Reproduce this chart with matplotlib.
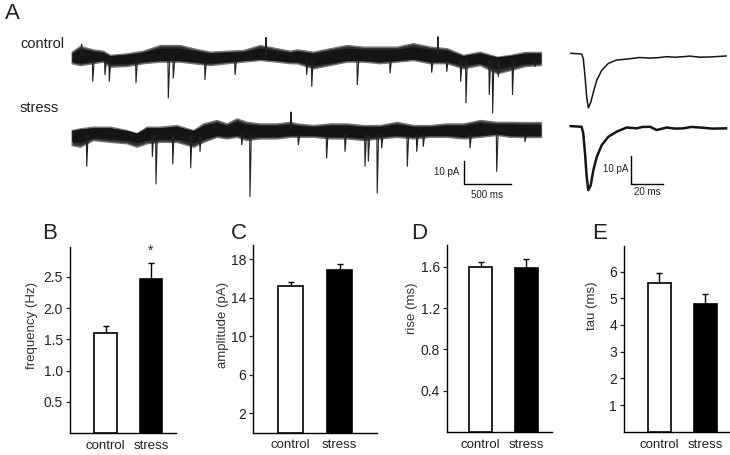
import matplotlib
matplotlib.use("Agg")
import matplotlib.pyplot as plt

plt.rcParams["font.family"] = ["Liberation Sans", "DejaVu Sans"]

W, H = 730, 455

# ---- bar data ----
groups = ["control", "stress"]
freq_mean = [1.60, 2.46]
freq_err = [0.12, 0.27]
amp_mean = [15.2, 16.85]
amp_err = [0.45, 0.65]
rise_mean = [1.60, 1.59]
rise_err = [0.05, 0.08]
tau_mean = [5.59, 4.80]
tau_err = [0.35, 0.35]

# ---- long example traces: noise band (ms, upper pA, lower pA) ----
ctrl_t = [18, 106, 245, 351, 426, 606, 777, 958, 1170, 1309, 1490, 1670, 1841,
          2022, 2202, 2341, 2415, 2586, 2766, 2947, 3118, 3298, 3479, 3650,
          3830, 4011, 4182, 4362, 4543, 4682, 4841, 5011]
ctrl_hi = [2.3, 4.8, 3.3, 2.7, 0.9, 1.6, 2.7, 5.2, 5.2, 3.8, 2.3, 2.7, 3.0,
           5.2, 3.8, 2.7, 3.3, 2.3, 3.8, 5.2, 4.5, 4.5, 4.5, 6.0,
           4.5, 3.8, 0.9, 2.3, 0.1, 0.9, 2.2, 2.2]
ctrl_lo = [-2.7, -3.5, -2.7, -2.0, -4.2, -3.9, -2.7, -2.0, -2.0, -2.7, -3.5, -2.7, -2.0,
           -1.3, -2.0, -2.7, -2.7, -4.9, -3.5, -2.0, -2.0, -2.7, -2.0, -1.3,
           -2.7, -2.7, -4.9, -3.5, -7.1, -5.7, -3.9, -3.5]
# events: time (ms), peak (pA)
ctrl_ev_t = [242, 372, 418, 702, 1046, 1099, 1436, 1756, 2518, 2572, 3057, 3405,
             3848, 4008, 4157, 4213, 4461, 4497, 4557, 4708, 4948]
ctrl_ev_amp = [-10.7, -7.8, -10.7, -11.4, -18.0, -9.3, -10.0, -7.8, -7.8, -12.9, -12.2, -7.1,
               -6.8, -6.4, -10.7, -20.1, -16.5, -24.5, -8.6, -16.5, -4.2]
ctrl_up_t = [124, 2085, 3916]
ctrl_up_amp = [5.5, 8.5, 8.8]

stress_t = [18, 106, 248, 426, 603, 710, 816, 958, 1135, 1312, 1418, 1561, 1667,
            1774, 1880, 2022, 2199, 2341, 2412, 2589, 2766, 2944, 3121, 3298,
            3476, 3653, 3830, 4008, 4185, 4362, 4540, 4682, 4841, 5011]
stress_hi = [0.4, 1.2, 1.9, 1.9, 0.4, -1.0, 1.9, 1.9, 2.6, 0.4, 3.3, 4.8, 3.3,
             5.5, 4.0, 3.3, 3.3, 4.0, 3.3, 2.6, 3.3, 3.3, 2.6, 2.6,
             4.0, 2.6, 2.6, 3.3, 3.3, 4.8, 4.0, 4.0, 3.9, 3.9]
stress_lo = [-6.1, -6.8, -3.9, -4.7, -5.3, -6.8, -5.3, -4.7, -4.7, -6.8, -4.7, -2.5, -3.2,
             -2.5, -3.9, -3.2, -3.2, -2.5, -2.5, -2.5, -3.2, -3.2, -3.9, -3.2,
             -2.5, -3.2, -2.5, -2.5, -3.2, -2.5, -1.7, -2.5, -2.6, -2.6]
stress_ev_t = [178, 876, 915, 1093, 1284, 1383, 1827, 1915, 2429, 2730, 2926, 3139,
               3174, 3269, 3316, 3589, 3689, 3759, 4256, 4540, 4841]
stress_ev_amp = [-15.5, -11.2, -23.2, -14.5, -16.2, -9.0, -6.1, -28.6, -6.1, -11.9, -9.0, -15.5,
                 -13.3, -27.1, -7.5, -15.5, -9.0, -6.8, -7.5, -17.7, -4.7]
stress_up_t = [2351]
stress_up_amp = [8.3]

# ---- averaged mEPSCs (ms, pA) ----
avg_ctrl_t = [0, 6.7, 7.7, 8.8, 9.8, 10.8, 12.3, 13.9, 16.0, 19.0, 23.1, 28.2,
              30.5, 38.4, 42.0, 48.7, 53.0, 58.9, 64.0, 69.1, 73.0, 79.3, 86.0, 95.3]
avg_ctrl_i = [0, -0.25, -1.8, -8.4, -15.5, -19.5, -17.5, -13.9, -9.6, -6.1, -3.6, -2.4,
              -2.3, -1.8, -1.5, -1.7, -1.6, -1.2, -1.4, -1.2, -1.0, -1.4, -1.3, -0.96]
avg_stress_t = [0, 6.7, 7.7, 8.8, 9.8, 10.8, 12.3, 13.9, 16.0, 19.0, 23.1, 28.2,
                34.3, 40.5, 44.0, 48.7, 52.8, 58.9, 64.0, 69.1, 74.0, 79.3, 87.0, 95.3]
avg_stress_i = [0, -0.25, -2.6, -9.8, -18.1, -22.9, -21.1, -15.7, -11.0, -6.8, -3.8, -2.0,
                -0.5, -0.8, -0.3, -0.25, -1.4, -0.5, -0.9, -0.8, -0.3, -0.5, -0.9, -0.8]

TRACE_COLOR = "#151515"


def px_axes(fig, x0, y0, x1, y1):
    return fig.add_axes([x0 / W, 1 - y1 / H, (x1 - x0) / W, (y1 - y0) / H])


def draw_long_trace(ax, t, hi, lo, ev_t, ev_amp, up_t, up_amp, off):
    # soft fringe, then the dense core of the noise band
    ax.fill_between(t, [v + off for v in lo], [v + off for v in hi],
                    color="#333333", edgecolor="#777777", linewidth=1.0)
    ax.fill_between(t, [v * 0.75 + off for v in lo], [v * 0.75 + off for v in hi],
                    color=TRACE_COLOR, linewidth=0)
    for te, a in zip(ev_t, ev_amp):
        ax.plot([te - 4, te, te + 14], [off - 1.5, off + a, off - 2.0],
                color="#222222", lw=0.8, solid_joinstyle="miter")
    for te, a in zip(up_t, up_amp):
        ax.plot([te - 4, te, te + 6], [off + 1, off + a, off + 1],
                color="#222222", lw=0.8)


def bar_panel(fig, box, c0, step, ylim, ticks, labels, means, errs, ylabel, ylab_x, letter, letter_x):
    L, T, R, B = box
    ax = px_axes(fig, L, T, R, B)
    ax.set_xlim((L - c0) / step, (R - c0) / step)
    ax.set_ylim(*ylim)
    ax.bar([0, 1], means, width=0.5, color=["white", "black"],
           edgecolor="black", linewidth=1.2, zorder=3)
    ax.errorbar([0, 1], means, yerr=[[0, 0], errs], fmt="none", ecolor="black",
                elinewidth=1.0, capsize=2.5, capthick=1.0, zorder=2)
    for s in ("top", "right"):
        ax.spines[s].set_visible(False)
    for s in ("left", "bottom"):
        ax.spines[s].set_linewidth(1.0)
    ax.set_yticks(ticks)
    ax.set_yticklabels(labels)
    ax.set_xticks([0, 1])
    ax.set_xticklabels(groups)
    ax.tick_params(axis="y", direction="out", length=3, width=0.9, labelsize=10,
                   pad=2, colors="#222222")
    ax.tick_params(axis="x", length=0, labelsize=9.5, pad=5, colors="#222222")
    fig.text(ylab_x / W, 1 - 282 / H, ylabel, rotation=90, ha="center", va="top",
             fontsize=9.5, color="#333333")
    fig.text(letter_x / W, 1 - 239 / H, letter, ha="left", va="baseline",
             fontsize=16, color="#222222")
    return ax


def main():
    fig = plt.figure(figsize=(W / 100, H / 100), dpi=100)

    # ---- panel A: long traces ----
    ax = px_axes(fig, 60, 20, 560, 210)
    ax.set_xlim((60 - 70) * 10.64, (560 - 70) * 10.64)
    ax.set_ylim((57 - 210) / 2.3, (57 - 20) / 2.3)
    ax.axis("off")
    draw_long_trace(ax, ctrl_t, ctrl_hi, ctrl_lo, ctrl_ev_t, ctrl_ev_amp,
                    ctrl_up_t, ctrl_up_amp, 0)
    draw_long_trace(ax, stress_t, stress_hi, stress_lo, stress_ev_t, stress_ev_amp,
                    stress_up_t, stress_up_amp, -32.2)
    # scale bar 10 pA / 500 ms
    sx, sy = 4192, -55.2
    ax.plot([sx, sx, sx + 500], [sy + 10, sy, sy], color="black", lw=1.0)
    ax.text(sx - 45, sy + 5, "10 pA", ha="right", va="center", fontsize=7, color="#222222")
    ax.text(sx + 250, sy - 2.5, "500 ms", ha="center", va="top", fontsize=7, color="#222222")

    # ---- averaged events ----
    ax2 = px_axes(fig, 560, 30, 730, 205)
    ax2.set_xlim((560 - 570.7) / 1.63, (730 - 570.7) / 1.63)
    ax2.set_ylim((53.3 - 205) / 2.8, (53.3 - 30) / 2.8)
    ax2.axis("off")
    ax2.plot(avg_ctrl_t, avg_ctrl_i, color=TRACE_COLOR, lw=1.1)
    ax2.plot(avg_stress_t, [v - 26 for v in avg_stress_i], color=TRACE_COLOR, lw=1.8)
    bx, by = 36.8, -46.7
    ax2.plot([bx, bx, bx + 20], [by + 10, by, by], color="black", lw=1.0)
    ax2.text(bx - 1.5, by + 5.5, "10 pA", ha="right", va="center", fontsize=7, color="#222222")
    ax2.text(bx + 10, by - 1.2, "20 ms", ha="center", va="top", fontsize=7, color="#222222")

    fig.text(5 / W, 1 - 19 / H, "A", ha="left", va="baseline", fontsize=16, color="#222222")
    fig.text(20 / W, 1 - 44 / H, "control", ha="left", va="center", fontsize=10.5, color="#222222")
    fig.text(20 / W, 1 - 108 / H, "stress", ha="left", va="center", fontsize=10.5, color="#222222")

    # ---- bar panels ----
    axb = bar_panel(fig, (70, 247, 176, 433), 105.5, 45.5, (0, 2.98),
                    [0.5, 1.0, 1.5, 2.0, 2.5], ["0.5", "1.0", "1.5", "2.0", "2.5"],
                    freq_mean, freq_err, "frequency (Hz)", 32, "B", 42)
    axb.text(1, freq_mean[1] + freq_err[1] + 0.08, "*", ha="center", va="bottom",
             fontsize=10, color="#222222")
    bar_panel(fig, (253, 245, 377, 432.5), 290.7, 49, (0, 19.5),
              [2, 6, 10, 14, 18], ["2", "6", "10", "14", "18"],
              amp_mean, amp_err, "amplitude (pA)", 223, "C", 231)
    bar_panel(fig, (447, 245, 552, 432), 480.7, 45.6, (0, 1.81),
              [0.4, 0.8, 1.2, 1.6], ["0.4", "0.8", "1.2", "1.6"],
              rise_mean, rise_err, "rise (ms)", 412, "D", 411)
    bar_panel(fig, (624, 245.7, 729.5, 431.7), 659, 46, (0, 6.97),
              [1, 2, 3, 4, 5, 6], ["1", "2", "3", "4", "5", "6"],
              tau_mean, tau_err, "tau (ms)", 592, "E", 592)

    fig.savefig("out.png", dpi=100)


if __name__ == "__main__":
    main()
